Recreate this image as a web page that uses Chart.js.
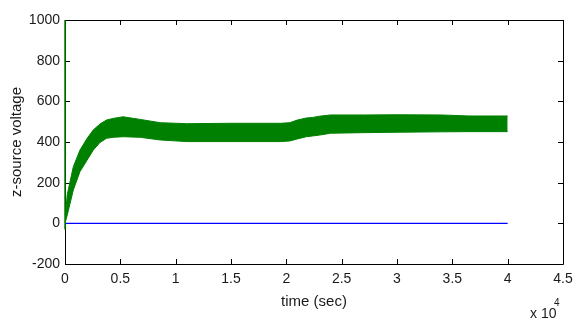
<!DOCTYPE html>
<html>
<head>
<meta charset="utf-8">
<script src="https://cdn.jsdelivr.net/npm/chart.js@4/dist/chart.umd.min.js"></script>
<style>
  html, body { margin: 0; padding: 0; background: #fff; }
  #wrap { width: 574px; height: 321px; }
</style>
</head>
<body>
<div id="wrap"><canvas id="c" width="574" height="321"></canvas></div>
<script>
// time in units of 1e4 (axis shows "x 10^4")
const time = [0, 0.02, 0.075, 0.135, 0.2, 0.255, 0.315, 0.375, 0.435, 0.525, 0.68, 0.86, 1.1, 1.5, 1.95, 2.03, 2.1, 2.18, 2.24, 2.3, 2.4, 2.7, 3.0, 3.4, 3.65, 4.0];
// upper and lower envelope of the oscillating z-source voltage (green band)
const upperVoltage = [20, 140, 278, 360, 418, 459, 488, 508, 516, 524, 511, 495, 490, 492, 492, 495, 508, 518, 521, 527, 533, 533, 534, 533, 528, 528];
const lowerVoltage = [0, 40, 164, 254, 311, 360, 397, 418, 423, 426, 423, 410, 402, 402, 402, 405, 415, 426, 430, 434, 443, 446, 448, 450, 451, 451];
// initial transient spike at t = 0
const spikeTime = [0, 0];
const spikeVoltage = [-30, 1000];
// second (blue) trace
const blueTime = [0, 4.0];
const blueVoltage = [0, 0];
const xTicks = [0, 0.5, 1, 1.5, 2, 2.5, 3, 3.5, 4, 4.5];
const yTicks = [-200, 0, 200, 400, 600, 800, 1000];

const GREEN = 'rgb(0,128,0)';
const BLUE = 'rgb(0,0,255)';
const FONT = '"Liberation Sans", Arial, sans-serif';

const toXY = (xs, ys) => xs.map((x, i) => ({x: x, y: ys[i]}));

const boxPlugin = {
  id: 'box',
  beforeDatasetsDraw(chart) {
    const {ctx, chartArea: a, scales} = chart;
    ctx.save();
    ctx.strokeStyle = '#000';
    ctx.lineWidth = 1;
    ctx.beginPath();
    ctx.rect(Math.round(a.left) + 0.5, Math.round(a.top) + 0.5, Math.round(a.right - a.left), Math.round(a.bottom - a.top));
    ctx.stroke();
    const L = 5;
    ctx.beginPath();
    xTicks.forEach(v => {
      const px = Math.round(scales.x.getPixelForValue(v)) + 0.5;
      ctx.moveTo(px, a.bottom); ctx.lineTo(px, a.bottom - L);
      ctx.moveTo(px, a.top); ctx.lineTo(px, a.top + L);
    });
    yTicks.forEach(v => {
      const py = Math.round(scales.y.getPixelForValue(v)) + 0.5;
      ctx.moveTo(a.left, py); ctx.lineTo(a.left + L, py);
      ctx.moveTo(a.right, py); ctx.lineTo(a.right - L, py);
    });
    ctx.stroke();
    ctx.restore();
  },
  afterDraw(chart) {
    const {ctx} = chart;
    ctx.save();
    ctx.fillStyle = '#1a1a1a';
    ctx.textBaseline = 'alphabetic';
    ctx.textAlign = 'left';
    ctx.font = '14px ' + FONT;
    ctx.fillText('x 10', 530, 318);
    ctx.font = '10px ' + FONT;
    ctx.fillText('4', 554, 306);
    ctx.restore();
  }
};

new Chart(document.getElementById('c'), {
  type: 'line',
  data: {
    datasets: [
      {
        label: 'upper',
        data: toXY(time, upperVoltage),
        borderColor: GREEN,
        backgroundColor: GREEN,
        borderWidth: 1,
        pointRadius: 0,
        fill: '+1',
        tension: 0
      },
      {
        label: 'lower',
        data: toXY(time, lowerVoltage),
        borderColor: GREEN,
        backgroundColor: GREEN,
        borderWidth: 1,
        pointRadius: 0,
        fill: false,
        tension: 0
      },
      {
        label: 'spike',
        data: toXY(spikeTime, spikeVoltage),
        borderColor: GREEN,
        borderWidth: 1.5,
        pointRadius: 0,
        fill: false,
        clip: false
      },
      {
        label: 'blue',
        data: toXY(blueTime, blueVoltage),
        borderColor: BLUE,
        borderWidth: 1.2,
        pointRadius: 0,
        fill: false
      }
    ]
  },
  options: {
    responsive: false,
    animation: false,
    devicePixelRatio: 1,
    layout: { padding: { left: 0, top: 20, right: 11, bottom: 0 } },
    plugins: { legend: { display: false }, tooltip: { enabled: false } },
    scales: {
      x: {
        type: 'linear',
        min: 0, max: 4.5,
        afterFit(s) { s.height = 57; s.paddingLeft = 0; s.paddingRight = 0; },
        afterBuildTicks(s) { s.ticks = xTicks.map(v => ({value: v})); },
        grid: { display: false, drawTicks: false, tickLength: 0 },
        border: { display: false },
        ticks: { color: '#1a1a1a', font: { family: FONT, size: 14 }, padding: 7, maxRotation: 0,
                 callback: v => String(v) },
        title: { display: true, text: 'time (sec)', color: '#1a1a1a', font: { family: FONT, size: 15 }, padding: { top: 0, bottom: 10 } }
      },
      y: {
        type: 'linear',
        min: -200, max: 1000,
        afterFit(s) { s.width = 65; s.paddingTop = 0; s.paddingBottom = 0; },
        afterBuildTicks(s) { s.ticks = yTicks.map(v => ({value: v})); },
        grid: { display: false, drawTicks: false, tickLength: 0 },
        border: { display: false },
        ticks: { color: '#1a1a1a', font: { family: FONT, size: 14 }, padding: 5,
                 callback: v => String(v) },
        title: { display: true, text: 'z-source voltage', color: '#1a1a1a', font: { family: FONT, size: 15 }, padding: { top: 8, bottom: 0 } }
      }
    }
  },
  plugins: [boxPlugin]
});
</script>
</body>
</html>
